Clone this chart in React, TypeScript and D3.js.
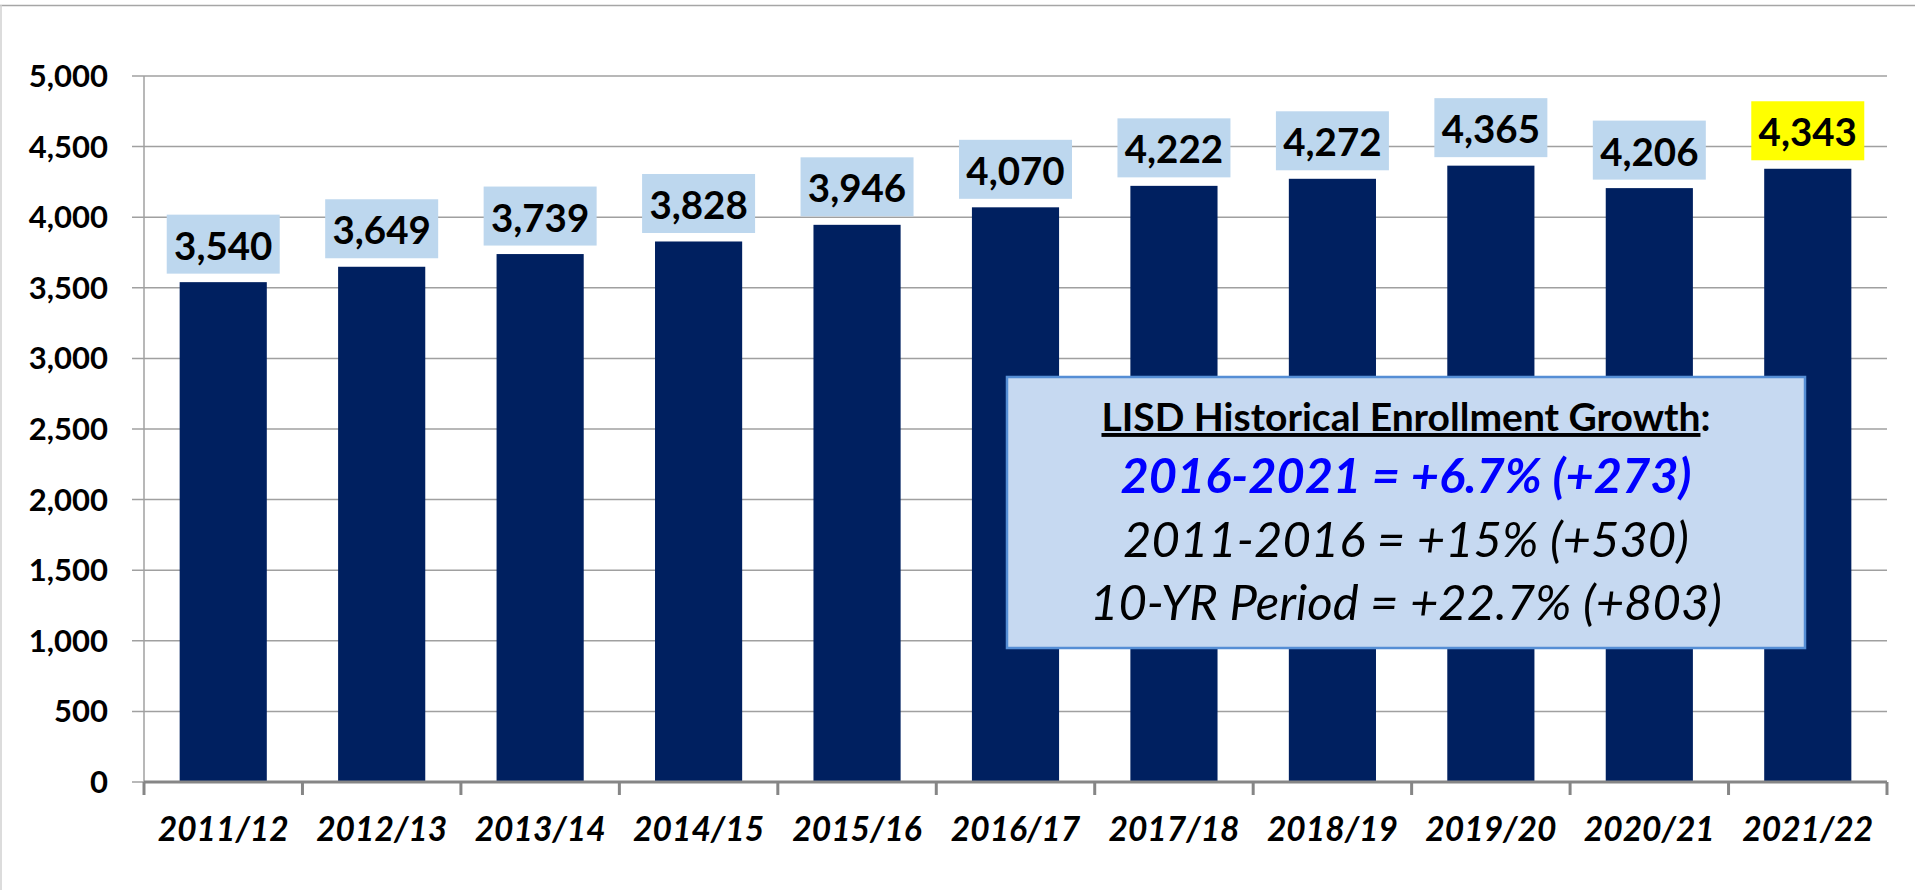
import React from "react";
import * as d3 from "d3";

const categories = ["2011/12","2012/13","2013/14","2014/15","2015/16","2016/17","2017/18","2018/19","2019/20","2020/21","2021/22"];
const enrollment = [3540,3649,3739,3828,3946,4070,4222,4272,4365,4206,4343];
const labelFills = ["#BDD7EE","#BDD7EE","#BDD7EE","#BDD7EE","#BDD7EE","#BDD7EE","#BDD7EE","#BDD7EE","#BDD7EE","#BDD7EE","#FFFF00"];
const yTicks = [0,500,1000,1500,2000,2500,3000,3500,4000,4500,5000];
const summaryTitle = "LISD Historical Enrollment Growth";
const summaryHighlight = "2016-2021 = +6.7% (+273)";
const summaryLines = ["2011-2016 = +15% (+530)", "10-YR Period = +22.7% (+803)"];

const W = 1915, H = 890;
const FONT = "Lato, 'Open Sans', sans-serif";

export default function App() {
  const left = 144, right = 1887, top = 76, bottom = 782;
  const y = d3.scaleLinear().domain([0, 5000]).range([bottom, top]);
  const x = d3.scaleBand<string>().domain(categories).range([left, right]).paddingInner(0.45).paddingOuter(0.225);
  const step = x.step();
  const fmt = d3.format(",");
  const boundaries = d3.range(categories.length + 1).map(i => left + i * step);
  const boxX = 1007, boxY = 377, boxW = 798, boxH = 271;
  const boxCx = boxX + boxW / 2;

  return (
    <svg width={W} height={H} style={{ position: "absolute", left: 0, top: 0, background: "#fff" }}>
      <rect x={0} y={0} width={W} height={H} fill="#fff" />
      <line x1={0} x2={W} y1={5.5} y2={5.5} stroke="#a6a6a6" strokeWidth={1.5} />
      <line x1={1} x2={1} y1={5} y2={H} stroke="#d0d0d0" strokeWidth={1.5} />
      {yTicks.map(t => (
        <g key={t}>
          <line x1={132} x2={right} y1={y(t)} y2={y(t)} stroke="#a0a0a0" strokeWidth={1.5} />
          <text x={108} y={y(t) + 11} textAnchor="end" fontFamily={FONT} fontWeight="bold" fontSize={31} fill="#000">{fmt(t)}</text>
        </g>
      ))}
      <line x1={left} x2={left} y1={top} y2={bottom} stroke="#a0a0a0" strokeWidth={1.5} />
      {categories.map((c, i) => {
        const v = enrollment[i];
        const bx = x(c)!;
        const bw = x.bandwidth();
        const by = y(v);
        const cx = bx + bw / 2;
        const lw = 113, lh = 59;
        const lb = by - 8.5;
        return (
          <g key={c}>
            <rect x={bx} y={by} width={bw} height={bottom - by} fill="#002060" />
            <rect x={cx - lw / 2} y={lb - lh} width={lw} height={lh} fill={labelFills[i]} />
            <text x={cx} y={lb - 14} textAnchor="middle" fontFamily={FONT} fontWeight="bold" fontSize={38.5} fill="#000">{fmt(v)}</text>
            <text x={cx} y={841} textAnchor="middle" fontFamily={FONT} fontWeight="bold" fontStyle="italic" fontSize={33.5} fill="#000">{c}</text>
          </g>
        );
      })}
      <line x1={left} x2={right} y1={bottom} y2={bottom} stroke="#868686" strokeWidth={3} />
      {boundaries.map((bx, i) => (
        <line key={i} x1={bx} x2={bx} y1={bottom} y2={795} stroke="#868686" strokeWidth={3} />
      ))}
      <g>
        <rect x={boxX} y={boxY} width={boxW} height={boxH} fill="#C6D9F1" stroke="#558ED5" strokeWidth={2.5} />
        <text x={boxCx} y={431} textAnchor="middle" fontFamily={FONT} fontWeight="bold" fontSize={39} fill="#000">
          <tspan style={{ textDecoration: "underline" }}>{summaryTitle}</tspan>:
        </text>
        <text x={boxCx} y={493} textAnchor="middle" fontFamily={FONT} fontWeight="bold" fontStyle="italic" fontSize={48.7} fill="#0000FF">{summaryHighlight}</text>
        {summaryLines.map((s, i) => (
          <text key={s} x={boxCx} y={557 + i * 63} textAnchor="middle" fontFamily={FONT} fontStyle="italic" fontSize={49} fill="#000">{s}</text>
        ))}
      </g>
    </svg>
  );
}
